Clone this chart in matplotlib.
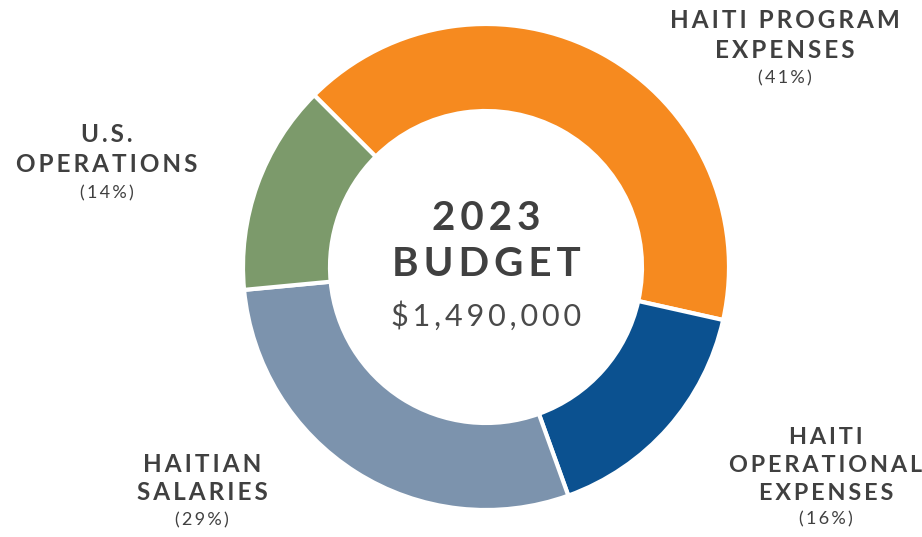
import matplotlib.pyplot as plt

labels = ['HAITI PROGRAM\nEXPENSES', 'HAITI\nOPERATIONAL\nEXPENSES', 'HAITIAN\nSALARIES', 'U.S.\nOPERATIONS']
shares = [41, 16, 29, 14]
colors = ['#F68A1F', '#0B5190', '#7C93AD', '#7C9A6B']
year = '2023'
total = '$1,490,000'

W, H = 922, 537
fig = plt.figure(figsize=(W / 100, H / 100), dpi=100)
ax = fig.add_axes([0, 0, 1, 1])

ax.pie(shares, colors=colors, startangle=135, counterclock=False,
       center=(486, H - 267), radius=243, frame=True,
       wedgeprops=dict(width=87, edgecolor='white', linewidth=3))
ax.set_xlim(0, W)
ax.set_ylim(0, H)
ax.set_aspect('equal')
ax.axis('off')

fam = ['Lato', 'DejaVu Sans']
dark = '#404040'


def spaced(s, sep='\u2009'):
    return '\n'.join(sep.join(line) for line in s.split('\n'))


def label(x, y, text, pct, size=17.5, gap=30):
    lines = text.split('\n')
    for i, line in enumerate(lines):
        ax.text(x, H - (y + i * gap), spaced(line), ha='center', va='center',
                fontsize=size, fontweight='bold', color=dark, family=fam)
    ax.text(x, H - (y + len(lines) * gap - 2), spaced(f'({pct}%)'), ha='center',
            va='center', fontsize=13, color=dark, family=fam)


label(785, 20, labels[0], shares[0])
label(826, 437, labels[1], shares[1], size=16.8, gap=28)
label(202, 464, labels[2], shares[2], gap=29)
label(107, 135, labels[3], shares[3])

ax.text(486, H - 218, spaced(year), ha='center', va='center', fontsize=29,
        fontweight='bold', color=dark, family=fam)
ax.text(486, H - 264, spaced('BUDGET'), ha='center', va='center', fontsize=29,
        fontweight='bold', color=dark, family=fam)
ax.text(486, H - 316, spaced(total), ha='center', va='center', fontsize=22,
        color='#4a4a4a', family=fam)

fig.savefig('out.png', dpi=100)
